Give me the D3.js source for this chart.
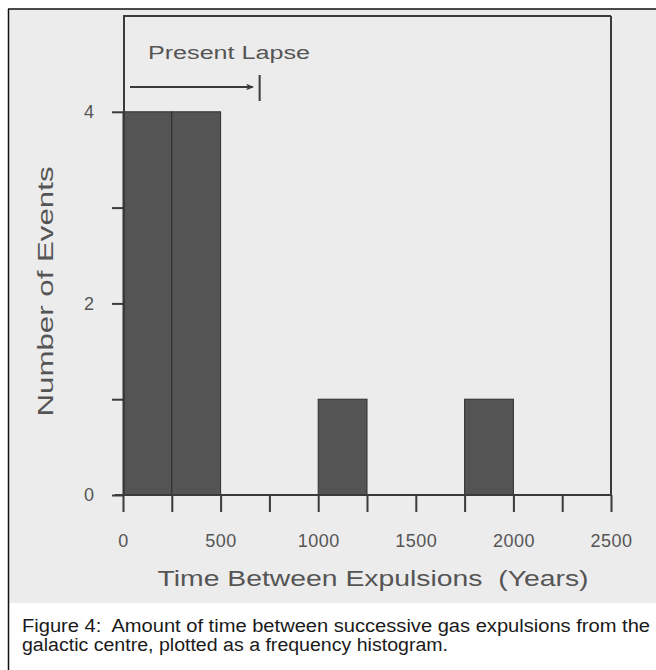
<!DOCTYPE html>
<html>
<head>
<meta charset="utf-8">
<script src="https://cdn.jsdelivr.net/npm/d3@7"></script>
<style>
  html, body { margin: 0; padding: 0; background: #ffffff; }
  svg { display: block; }
  svg text { white-space: pre; }
</style>
</head>
<body>
<svg id="chart" width="656" height="670"></svg>
<script>
// ---- Data ----
const binLower = [0, 250, 1000, 1750];
const binUpper = [250, 500, 1250, 2000];
const eventCounts = [4, 4, 1, 1];
const xTickValues = [0, 250, 500, 750, 1000, 1250, 1500, 1750, 2000, 2250, 2500];
const xTickLabels = [0, 500, 1000, 1500, 2000, 2500];
const yTickValues = [0, 1, 2, 3, 4];
const yTickLabels = [0, 2, 4];
const presentLapse = 700;
const xTitle = "Time Between Expulsions  (Years)";
const yTitle = "Number of Events";
const lapseLabel = "Present Lapse";
const captionLines = [
  "Figure 4:  Amount of time between successive gas expulsions from the",
  "galactic centre, plotted as a frequency histogram."
];

// ---- Layout ----
const svg = d3.select("#chart");
const font = "'Liberation Sans', Arial, Helvetica, sans-serif";
const ink = "#3a3a3a";
const textInk = "#555555";

// image (scan) area background
svg.append("rect").attr("x", 9).attr("y", 9).attr("width", 647).attr("height", 594)
  .attr("fill", "#ececec");
// outer border lines
svg.append("line").attr("x1", 8).attr("x2", 656).attr("y1", 9).attr("y2", 9)
  .attr("stroke", "#111").attr("stroke-width", 1.5);
svg.append("line").attr("x1", 8.5).attr("x2", 8.5).attr("y1", 9).attr("y2", 670)
  .attr("stroke", "#111").attr("stroke-width", 1.5);

const x = d3.scaleLinear().domain([0, 2500]).range([123, 611]);
const y = d3.scaleLinear().domain([0, 5]).range([495, 16]);

const g = svg.append("g");

// bars
g.selectAll("rect.bar")
  .data(eventCounts)
  .join("rect")
  .attr("class", "bar")
  .attr("x", (d, i) => x(binLower[i]))
  .attr("width", (d, i) => x(binUpper[i]) - x(binLower[i]))
  .attr("y", d => y(d))
  .attr("height", d => y(0) - y(d))
  .attr("fill", "#545454")
  .attr("stroke", "#2e2e2e")
  .attr("stroke-width", 1);

// frame: top and right
g.append("line").attr("x1", x(0)).attr("x2", x(2500)).attr("y1", y(5)).attr("y2", y(5))
  .attr("stroke", ink).attr("stroke-width", 2);
g.append("line").attr("x1", x(2500)).attr("x2", x(2500)).attr("y1", y(5)).attr("y2", y(0))
  .attr("stroke", ink).attr("stroke-width", 2);

// x axis
const xAxis = d3.axisBottom(x)
  .tickValues(xTickValues)
  .tickSizeInner(17)
  .tickSizeOuter(0)
  .tickFormat(d => xTickLabels.includes(d) ? d : "");
const gx = g.append("g").attr("transform", `translate(0,${y(0)})`).call(xAxis);
gx.select(".domain").attr("stroke", ink).attr("stroke-width", 2)
  .attr("d", `M${x(0) - 8},0H${x(2500)}`);
gx.selectAll(".tick line").attr("stroke", ink).attr("stroke-width", 2);
gx.selectAll(".tick text").attr("fill", textInk).attr("font-family", font)
  .attr("font-size", 18).attr("dy", "1.75em").attr("letter-spacing", 0.5);

// y axis
const yAxis = d3.axisLeft(y)
  .tickValues(yTickValues)
  .tickSizeInner(12)
  .tickSizeOuter(0)
  .tickFormat(d => yTickLabels.includes(d) ? d : "");
const gy = g.append("g").attr("transform", `translate(${x(0) + 1},0)`).call(yAxis);
gy.select(".domain").attr("stroke", ink).attr("stroke-width", 2)
  .attr("d", `M0,${y(5)}V${y(0)}`);
gy.selectAll(".tick line").attr("stroke", ink).attr("stroke-width", 2);
gy.selectAll(".tick text").attr("fill", textInk).attr("font-family", font)
  .attr("font-size", 18).attr("x", -30);

// axis titles
g.append("text")
  .attr("x", (x(0) + x(2500)) / 2 + 6).attr("y", 586)
  .attr("text-anchor", "middle")
  .attr("font-family", font).attr("font-size", 22).attr("fill", textInk)
  .attr("textLength", 431).attr("lengthAdjust", "spacingAndGlyphs")
  .text(xTitle);
g.append("text")
  .attr("transform", `translate(53,${(165 + 418) / 2}) rotate(-90)`)
  .attr("text-anchor", "middle")
  .attr("font-family", font).attr("font-size", 22).attr("fill", textInk)
  .attr("textLength", 250).attr("lengthAdjust", "spacingAndGlyphs")
  .text(yTitle);

// present lapse annotation
const arrowY = 87;
g.append("text")
  .attr("x", 148).attr("y", 59)
  .attr("font-family", font).attr("font-size", 18).attr("fill", textInk)
  .attr("textLength", 162).attr("lengthAdjust", "spacingAndGlyphs")
  .text(lapseLabel);
svg.append("defs").append("marker")
  .attr("id", "arr").attr("viewBox", "0 0 10 10").attr("refX", 10).attr("refY", 5)
  .attr("markerWidth", 8).attr("markerHeight", 6).attr("orient", "auto")
  .attr("markerUnits", "userSpaceOnUse")
  .append("path").attr("d", "M0,1L10,5L0,9").attr("fill", "none")
  .attr("stroke", ink).attr("stroke-width", 2);
g.append("line")
  .attr("x1", x(0) + 7).attr("x2", x(presentLapse) - 7)
  .attr("y1", arrowY).attr("y2", arrowY)
  .attr("stroke", ink).attr("stroke-width", 1.8)
  .attr("marker-end", "url(#arr)");
g.append("line")
  .attr("x1", x(presentLapse)).attr("x2", x(presentLapse))
  .attr("y1", arrowY - 12).attr("y2", arrowY + 14)
  .attr("stroke", ink).attr("stroke-width", 2);

// caption
const cap = svg.append("g");
cap.selectAll("text")
  .data(captionLines)
  .join("text")
  .attr("x", 22)
  .attr("y", (d, i) => 632 + i * 19)
  .attr("font-family", font).attr("font-size", 18).attr("fill", "#1a1a1a")
  .attr("textLength", (d, i) => i === 0 ? 628 : 426)
  .attr("lengthAdjust", "spacingAndGlyphs")
  .text(d => d);
</script>
</body>
</html>
